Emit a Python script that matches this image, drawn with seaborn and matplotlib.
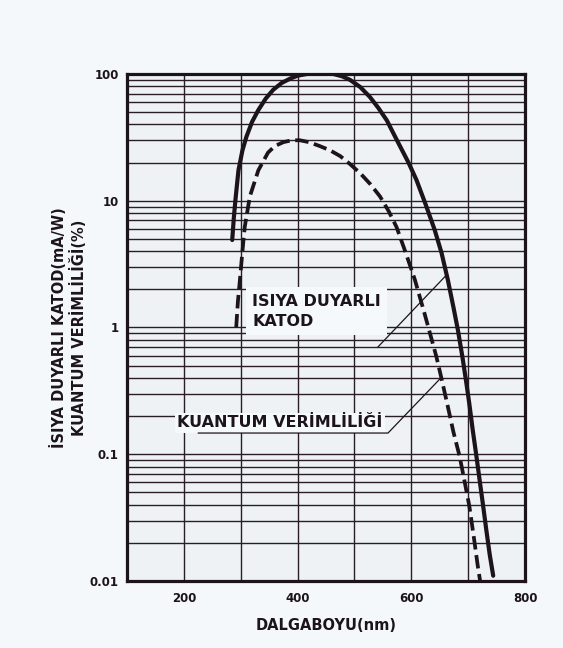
import matplotlib
matplotlib.use("Agg")
import matplotlib.pyplot as plt
import seaborn as sns
import pandas as pd
from matplotlib.ticker import FixedLocator, NullFormatter, LogLocator

# ---- data ----
cathode_nm = [285, 288, 291, 296, 303, 310, 320, 331, 344, 357, 372, 387, 400, 416, 440, 463, 478,
              492, 510, 527, 542, 557, 570, 580, 595, 609, 625, 641, 653, 664, 674, 682, 690, 696,
              702, 708, 714, 720, 726, 732, 738, 744]
cathode_sens = [4.9, 7.5, 10.5, 17.4, 25, 32, 42, 52, 64, 75, 85, 92, 97, 100, 101, 100, 96,
                90, 79, 66, 54, 43, 33, 27, 20, 14.6, 9.4, 5.9, 3.9, 2.4, 1.45, 0.95, 0.58, 0.385,
                0.25, 0.155, 0.1, 0.063, 0.04, 0.025, 0.016, 0.011]

qe_nm = [292, 295, 299, 303, 307, 316, 331, 348, 360, 375, 390, 404, 420, 439, 457, 475, 492,
         510, 528, 545, 560, 574, 590, 606, 623, 634, 644, 654, 664, 674, 685, 694, 702, 710, 717, 721]
qe_pct = [1.0, 1.6, 2.5, 4.0, 6.2, 10.8, 17.4, 24, 27, 29, 30, 30, 29, 27, 25, 22.5, 19.5,
          16.5, 13.5, 10.8, 8.3, 6.2, 3.9, 2.4, 1.3, 0.86, 0.59, 0.38, 0.24, 0.15, 0.096, 0.06,
          0.039, 0.022, 0.013, 0.01]

y_ticks = [0.01, 0.1, 1, 10, 100]
y_tick_labels = ["0.01", "0.1", "1", "10", "100"]
x_ticks = [200, 400, 600, 800]
x_tick_labels = ["200", "400", "600", "800"]

x_label = "DALGABOYU(nm)"
y_label = "İSIYA DUYARLI KATOD(mA/W)\nKUANTUM VERİMLİLİĞİ(%)"
label_cathode = "ISIYA DUYARLI\nKATOD"
label_qe = "KUANTUM VERİMLİLİĞİ"

# ---- styling ----
sns.set_theme(style="white")
plt.rcParams["font.family"] = ["DejaVu Sans"]
plt.rcParams["font.weight"] = "bold"

ink = "#1c1418"
grid_c = "#2a1e26"
fig_bg = "#f4f8fb"
ax_bg = "#eef2f5"

fig = plt.figure(figsize=(5.63, 6.48), dpi=100, facecolor=fig_bg)
ax = fig.add_axes([0.2256, 0.1034, 0.707, 0.7824], facecolor=ax_bg)

df_c = pd.DataFrame({"nm": cathode_nm, "val": cathode_sens})
df_q = pd.DataFrame({"nm": qe_nm, "val": qe_pct})

sns.lineplot(data=df_c, x="nm", y="val", ax=ax, color=ink, lw=3.0, sort=False,
             estimator=None, zorder=5)
sns.lineplot(data=df_q, x="nm", y="val", ax=ax, color=ink, lw=2.7, sort=False,
             estimator=None, zorder=5, dashes=False)
ax.lines[-1].set_linestyle((0, (3.6, 1.5)))

ax.set_yscale("log")
ax.set_xlim(100, 800)
ax.set_ylim(0.01, 100)

ax.yaxis.set_major_locator(FixedLocator(y_ticks))
ax.set_yticklabels(y_tick_labels)
ax.yaxis.set_minor_locator(LogLocator(base=10, subs=range(2, 10)))
ax.yaxis.set_minor_formatter(NullFormatter())
ax.set_xticks(x_ticks)
ax.set_xticklabels(x_tick_labels)
ax.set_xticks(list(range(100, 801, 100)), minor=True)

ax.tick_params(axis="both", which="both", length=0)
ax.tick_params(axis="x", pad=8, labelsize=8.5, colors=ink)
ax.tick_params(axis="y", pad=6, labelsize=8.5, colors=ink)
for t in ax.get_xticklabels() + ax.get_yticklabels():
    t.set_fontweight("bold")

ax.grid(True, which="both", axis="both", color=grid_c, lw=1.0, zorder=1)
ax.set_axisbelow(True)
for s in ax.spines.values():
    s.set_visible(True)
    s.set_color(ink)
    s.set_linewidth(2.3)

ax.set_xlabel(x_label, fontsize=10.5, fontweight="bold", color=ink, labelpad=9)
ax.set_ylabel(y_label, fontsize=10.5, fontweight="bold", color=ink, labelpad=2,
              linespacing=1.2)

# ---- annotations ----
ax.text(320, 1.34, label_cathode, fontsize=11.5, fontweight="bold", color=ink,
        ha="left", va="center", linespacing=1.45, zorder=6,
        bbox=dict(boxstyle="square,pad=0.4", fc="#f6f9fb", ec="none"))
ax.plot([541, 662], [0.70, 2.6], color=ink, lw=0.9, zorder=6)

ax.text(188, 0.177, label_qe, fontsize=11.5, fontweight="bold", color=ink,
        ha="left", va="center", zorder=6,
        bbox=dict(boxstyle="square,pad=0.15", fc="#f6f9fb", ec="none"))
ax.plot([225, 559, 652], [0.147, 0.147, 0.40], color=ink, lw=0.9, zorder=6)

fig.savefig("out.png", dpi=100, facecolor=fig_bg)
